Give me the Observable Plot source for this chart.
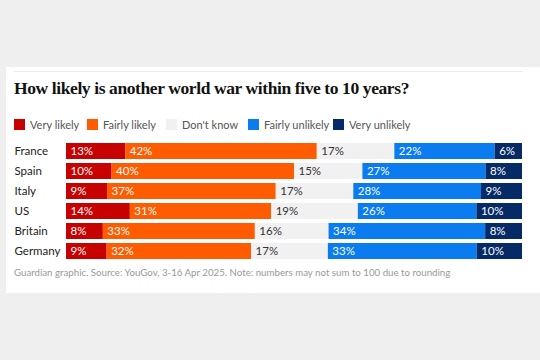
<!DOCTYPE html>
<html>
<head>
<meta charset="utf-8">
<script src="https://cdn.jsdelivr.net/npm/d3@7"></script>
<script src="https://cdn.jsdelivr.net/npm/@observablehq/plot@0.6"></script>
<style>
  html, body { margin: 0; padding: 0; }
  body { width: 540px; height: 360px; background: #efefef; position: relative; overflow: hidden; font-family: Lato, "Open Sans", sans-serif; }
  #card { position: absolute; left: 6px; top: 67px; width: 534px; height: 226px; background: #fff; }
  #rule { position: absolute; left: 8px; top: 4px; width: 509px; height: 1px; background: #ececec; }
  #title { position: absolute; left: 8px; top: 11px; font-family: "Liberation Serif", serif; font-weight: bold; font-size: 17.5px; color: #121212; white-space: nowrap; letter-spacing: -0.4px; }
  #legend { position: absolute; left: 8px; top: 51px; font-size: 11px; color: #555; white-space: nowrap; }
  .item { position: absolute; top: 0; display: flex; align-items: center; }
  .sw { width: 11px; height: 11px; margin-right: 5px; }
  #chart { position: absolute; left: 8px; top: 68px; }
  #caption { position: absolute; left: 8px; top: 199px; font-size: 9.7px; color: #999; white-space: nowrap; }
</style>
</head>
<body>
<div id="card">
  <div id="rule"></div>
  <div id="title">How likely is another world war within five to 10 years?</div>
  <div id="legend"></div>
  <div id="chart"></div>
  <div id="caption">Guardian graphic. Source: YouGov, 3-16 Apr 2025. Note: numbers may not sum to 100 due to rounding</div>
</div>
<script>
const countries = ["France", "Spain", "Italy", "US", "Britain", "Germany"];
const categories = ["Very likely", "Fairly likely", "Don't know", "Fairly unlikely", "Very unlikely"];
const colors = ["#c70000", "#ff5b00", "#f1f1f1", "#0a7cf0", "#062a66"];
const veryLikely     = [13, 10, 9, 14, 8, 9];
const fairlyLikely   = [42, 40, 37, 31, 33, 32];
const dontKnow       = [17, 15, 17, 19, 16, 17];
const fairlyUnlikely = [22, 27, 28, 26, 34, 33];
const veryUnlikely   = [6, 8, 9, 10, 8, 10];

const series = [veryLikely, fairlyLikely, dontKnow, fairlyUnlikely, veryUnlikely];
const data = [];
countries.forEach((c, i) => {
  categories.forEach((cat, j) => {
    data.push({country: c, category: cat, value: series[j][i]});
  });
});

// legend
const legendX = [0, 73, 152, 234, 319];
const legend = document.getElementById("legend");
categories.forEach((cat, j) => {
  const it = document.createElement("div");
  it.className = "item";
  it.style.left = legendX[j] + "px";
  it.innerHTML = `<div class="sw" style="background:${colors[j]}"></div><span>${cat}</span>`;
  legend.appendChild(it);
});

const stackOpts = {x: "value", y: "country", z: "category", order: categories, offset: "normalize"};

const chart = Plot.plot({
  width: 510,
  height: 131,
  marginLeft: 52,
  marginRight: 2,
  marginTop: 4,
  marginBottom: 3,
  style: {fontFamily: "Lato, 'Open Sans', sans-serif", fontSize: "11px", color: "#222"},
  x: {axis: null},
  y: {domain: countries, padding: 0.18, axis: null},
  color: {domain: categories, range: colors},
  marks: [
    Plot.text(countries, {y: d => d, text: d => d, frameAnchor: "left", dx: -52, textAnchor: "start", fontSize: 11.5, fill: "#222"}),
    Plot.barX(data, Plot.stackX({...stackOpts, fill: "category"})),
    Plot.text(data, Plot.stackX1({...stackOpts, text: d => d.category !== "Don't know" ? d.value + "%" : null, fill: "white", textAnchor: "start", dx: 4, fontSize: 11.5})),
    Plot.text(data, Plot.stackX1({...stackOpts, text: d => d.category === "Don't know" ? d.value + "%" : null, fill: "#333", textAnchor: "start", dx: 4, fontSize: 11.5}))
  ]
});
document.getElementById("chart").appendChild(chart);
</script>
</body>
</html>
